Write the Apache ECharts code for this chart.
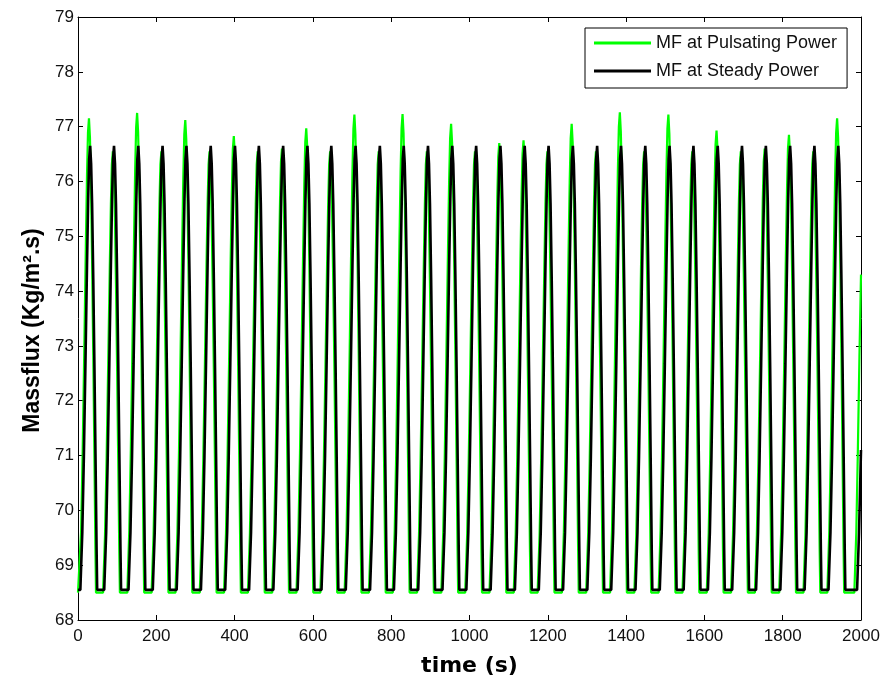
<!DOCTYPE html>
<html><head><meta charset="utf-8">
<script src="https://cdn.jsdelivr.net/npm/echarts@6/dist/echarts.min.js"></script>
<style>html,body{margin:0;padding:0;background:#fff}#c{width:883px;height:682px}</style>
</head><body><div id="c"></div>
<script>
// ---- data ----
const seriesNames = ['MF at Pulsating Power', 'MF at Steady Power'];
const xTickValues = [0, 200, 400, 600, 800, 1000, 1200, 1400, 1600, 1800, 2000];
const yTickValues = [68, 69, 70, 71, 72, 73, 74, 75, 76, 77, 78, 79];

// steady power: time of each peak (s) and its value
const steadyBase = 68.55;
const steadyPeakTimes = [31, 92, 154, 216, 277, 339, 401, 462, 524, 586, 647, 709, 771, 832, 894, 956, 1017, 1079, 1141, 1202, 1264, 1326, 1387, 1449, 1511, 1572, 1634, 1696, 1757, 1819, 1881, 1942];
const steadyPeakValues = [76.65, 76.65, 76.65, 76.65, 76.65, 76.65, 76.65, 76.65, 76.65, 76.65, 76.65, 76.65, 76.65, 76.65, 76.65, 76.65, 76.65, 76.65, 76.65, 76.65, 76.65, 76.65, 76.65, 76.65, 76.65, 76.65, 76.65, 76.65, 76.65, 76.65, 76.65, 76.65];
// last, unfinished rise at the right edge
const steadyTailTimes = [1990, 1995, 2000];
const steadyTailValues = [68.55, 69.6, 71.1];

// pulsating power: time of each peak (s) and its value
const pulseBase = 68.5;
const pulsePeakTimes = [28, 89, 151, 213, 274, 336, 398, 459, 521, 583, 644, 706, 768, 829, 891, 953, 1014, 1076, 1138, 1199, 1261, 1323, 1384, 1446, 1508, 1569, 1631, 1693, 1754, 1816, 1878, 1939];
const pulsePeakValues = [77.15, 76.55, 77.25, 76.55, 77.12, 76.55, 76.83, 76.55, 76.6, 76.97, 76.55, 77.22, 76.55, 77.23, 76.55, 77.05, 76.55, 76.7, 76.75, 76.55, 77.05, 76.55, 77.26, 76.55, 77.22, 76.55, 76.93, 76.55, 76.6, 76.85, 76.55, 77.15];
const pulseTailTimes = [1983, 1988, 1992, 1996, 2000];
const pulseTailValues = [68.5, 69.6, 71.1, 72.8, 74.3];

// shape of one pulse: time from peak (s) and fraction of the peak height above the base
const pulseShapeOffsets = [-25, -20, -16, -12, -8, -5, -2.5, 0, 2.5, 5, 8, 11, 14, 16.5, 18];
const pulseShapeFractions = [0, 0.13, 0.30, 0.51, 0.73, 0.88, 0.97, 1, 0.96, 0.87, 0.70, 0.50, 0.28, 0.09, 0];

function buildSeries(base, times, peaks, tailT, tailV) {
  const pts = [[0, base]];
  for (let i = 0; i < times.length; i++) {
    for (let k = 0; k < pulseShapeOffsets.length; k++) {
      pts.push([times[i] + pulseShapeOffsets[k], base + pulseShapeFractions[k] * (peaks[i] - base)]);
    }
  }
  for (let j = 0; j < tailT.length; j++) pts.push([tailT[j], tailV[j]]);
  return pts;
}
const pulseData = buildSeries(pulseBase, pulsePeakTimes, pulsePeakValues, pulseTailTimes, pulseTailValues);
const steadyData = buildSeries(steadyBase, steadyPeakTimes, steadyPeakValues, steadyTailTimes, steadyTailValues);

// ---- chart ----
const FONT = 'Liberation Sans';
const labelStyle = { color: '#111', fontSize: 17, fontFamily: FONT, formatter: v => String(v) };
const chart = echarts.init(document.getElementById('c'), null, { renderer: 'canvas' });
const tickStyle = { show: true, inside: true, length: 5, lineStyle: { color: '#000', width: 1 } };
const lineStyle = { show: true, onZero: false, lineStyle: { color: '#000', width: 1 } };
chart.setOption({
  animation: false,
  backgroundColor: '#fff',
  grid: { left: 78, right: 22, top: 17, bottom: 62, containLabel: false },
  legend: {
    data: seriesNames,
    orient: 'vertical',
    left: 585, top: 28,
    padding: [6, 10, 8, 9],
    itemGap: 10,
    itemWidth: 57, itemHeight: 3,
    icon: 'rect',
    borderColor: '#000', borderWidth: 1,
    backgroundColor: '#fff',
    textStyle: { color: '#111', fontSize: 18, fontFamily: FONT }
  },
  xAxis: [{
    type: 'value', min: 0, max: 2000, interval: 200,
    axisLine: lineStyle, axisTick: tickStyle, splitLine: { show: false },
    axisLabel: Object.assign({ margin: 8 }, labelStyle),
    name: 'time (s)', nameLocation: 'middle', nameGap: 35,
    nameTextStyle: { fontSize: 22, fontWeight: 'bold', fontFamily: 'DejaVu Sans', color: '#000' }
  }, {
    type: 'value', min: 0, max: 2000, interval: 200, position: 'top',
    axisLine: lineStyle, axisTick: tickStyle, splitLine: { show: false }, axisLabel: { show: false }
  }],
  yAxis: [{
    type: 'value', min: 68, max: 79, interval: 1,
    axisLine: lineStyle, axisTick: tickStyle, splitLine: { show: false },
    axisLabel: Object.assign({ margin: 4 }, labelStyle),
    name: 'Massflux (Kg/m\u00B2.s)', nameLocation: 'middle', nameGap: 34, nameRotate: 90,
    nameTextStyle: { fontSize: 23, fontWeight: 'bold', fontFamily: FONT, color: '#000', padding: [0, 24, 0, 0] }
  }, {
    type: 'value', min: 68, max: 79, interval: 1, position: 'right',
    axisLine: lineStyle, axisTick: tickStyle, splitLine: { show: false }, axisLabel: { show: false }
  }],
  series: [{
    name: seriesNames[0], type: 'line', data: pulseData, showSymbol: false, symbol: 'none',
    itemStyle: { color: '#00ff00' }, lineStyle: { color: '#00ff00', width: 2.2 }, clip: true
  }, {
    name: seriesNames[1], type: 'line', data: steadyData, showSymbol: false, symbol: 'none',
    itemStyle: { color: '#000' }, lineStyle: { color: '#000', width: 2.6 }, clip: true
  }]
});
</script>
</body></html>
